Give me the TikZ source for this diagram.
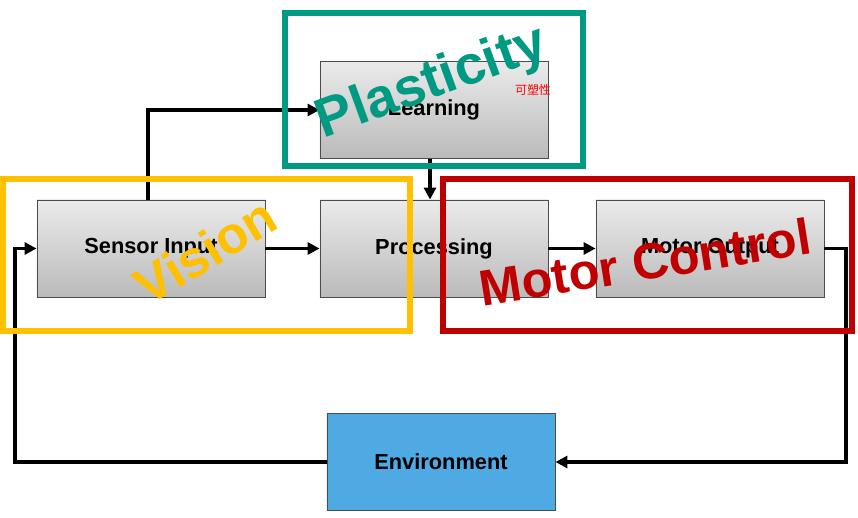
\documentclass[tikz,border=0pt]{standalone}
\usepackage{fontspec}
\setmainfont{Liberation Sans}
\newfontfamily\cjkfont{Noto Sans CJK SC}
\usetikzlibrary{arrows.meta}
\definecolor{plastgreen}{HTML}{009A82}
\definecolor{visionyellow}{HTML}{FFC000}
\definecolor{motorred}{HTML}{C00000}
\definecolor{envblue}{HTML}{4FA9E3}
\tikzset{
  block/.style={draw=black!70, line width=0.6pt, top color=black!8, bottom color=black!27,
    minimum width=5.7cm, minimum height=2.425cm, inner sep=0pt,
    font=\fontsize{15.5}{18}\selectfont\bfseries},
  envblock/.style={block, fill=envblue, top color=envblue, bottom color=envblue},
  flow/.style={line width=2.5pt, -{Triangle[length=8.5pt,width=8.5pt]}},
  frame/.style={line width=4.5pt, inner sep=0pt},
  tag/.style={font=\fontsize{#1}{#1}\selectfont\bfseries, inner sep=0pt}
}
\begin{document}
\begin{tikzpicture}[x=0.025cm,y=-0.025cm]
  \useasboundingbox (0,0) rectangle (858,518);
  % blocks
  \node[block] (learning) at (434,110) {Learning};
  \node[block] (sensor) at (151,248.5) {Sensor Input};
  \node[block] (processing) at (434,248.5) {Processing};
  \node[block] (motor) at (710,248.5) {Motor Output};
  \node[envblock] (env) at (441,462) {Environment};
  % connectors
  \coordinate (fbR) at (846,248.5);
  \coordinate (fbL) at (15,462);
  \draw[flow] ([xshift=-0.075cm]sensor.north) |- (learning.west);
  \draw[flow] ([xshift=-0.1cm]learning.south) -- ([xshift=-0.1cm]processing.north);
  \draw[flow] (sensor.east) -- (processing.west);
  \draw[flow] (processing.east) -- (motor.west);
  \draw[flow] (motor.east) -- (fbR) |- (env.east);
  \draw[flow] (env.west) -- (fbL) |- (sensor.west);
  % overlays
  \node[frame, draw=plastgreen, minimum width=7.45cm, minimum height=3.825cm] (plastframe) at (434,89.5) {};
  \node[frame, draw=visionyellow, minimum width=10.175cm, minimum height=3.8cm] (visionframe) at (206.5,255) {};
  \node[frame, draw=motorred, minimum width=10.225cm, minimum height=3.8cm] (motorframe) at (647.5,255) {};
  \node[tag=39, text=plastgreen, rotate=20] (plasttext) at (432,84) {Plasticity};
  \node[tag=37, text=visionyellow, rotate=31] (visiontext) at (205,251) {Vision};
  \node[tag=36, text=motorred, rotate=9] (motortext) at (645,262) {Motor Control};
  \node[font=\cjkfont\fontsize{8.5}{9}\selectfont, text=red, inner sep=0pt] (plastcn) at (533,90) {可塑性};
\end{tikzpicture}
\end{document}
